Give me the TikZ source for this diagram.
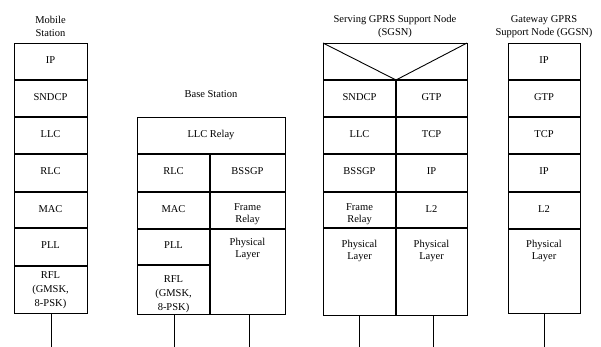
\documentclass[tikz,border=0pt]{standalone}
\usepackage{fontspec}
\setmainfont{Liberation Serif}
\begin{document}
\begin{tikzpicture}[x=1pt,y=-1pt,
  frame/.style={line width=0.9pt},
  sep/.style={line width=1.4pt},
  lay/.style={font=\fontsize{10.5}{12.5}\selectfont, align=center, anchor=north, inner sep=0pt},
  rfl/.style={lay, font=\fontsize{10.5}{14}\selectfont},
  ttl/.style={font=\fontsize{10.5}{13}\selectfont, align=center, inner sep=0pt},
  wire/.style={line width=0.9pt}]
\useasboundingbox (0,0) rectangle (601,347);

% ---------- Mobile Station ----------
\node[ttl] (msT) at (50.5,26.5) {Mobile\\Station};
\draw[frame] (14,43) rectangle (87,313);
\foreach \y in {80,117,154,192,228,266} \draw[sep] (14,\y) -- (87,\y);
\node[lay] (ms1) at (50.5,56) {IP};
\node[lay] (ms2) at (50.5,93) {SNDCP};
\node[lay] (ms3) at (50.5,130) {LLC};
\node[lay] (ms4) at (50.5,167) {RLC};
\node[lay] (ms5) at (50.5,205) {MAC};
\node[lay] (ms6) at (50.5,241) {PLL};
\node[rfl] (ms7) at (50.5,271) {RFL\\(GMSK,\\8-PSK)};
\coordinate (msA) at (51,313);
\coordinate (msB) at (51,347);
\draw[wire] (msA) -- (msB);

% ---------- Base Station ----------
\node[ttl] (bsT) at (211,94) {Base Station};
\draw[frame] (137,117) rectangle (285,314);
\draw[sep] (137,154) -- (285,154);
\draw[sep] (210,154) -- (210,314);
\draw[sep] (137,192) -- (285,192);
\draw[sep] (137,229) -- (285,229);
\draw[sep] (137,265) -- (210,265);
\node[lay] (bs1) at (211,130) {LLC Relay};
\node[lay] (bs2) at (173.5,167) {RLC};
\node[lay] (bs3) at (247.5,167) {BSSGP};
\node[lay] (bs4) at (173.5,205) {MAC};
\node[lay] (bs5) at (247.5,203) {Frame\\Relay};
\node[lay] (bs6) at (173.5,241) {PLL};
\node[lay] (bs7) at (247.5,238) {Physical\\Layer};
\node[rfl] (bs8) at (173.5,275) {RFL\\(GMSK,\\8-PSK)};
\coordinate (bsA) at (174,314);
\coordinate (bsB) at (174,347);
\coordinate (bsC) at (249,314);
\coordinate (bsD) at (249,347);
\draw[wire] (bsA) -- (bsB);
\draw[wire] (bsC) -- (bsD);

% ---------- SGSN ----------
\node[ttl] (sgT) at (395,26.5) {Serving GPRS Support Node\\(SGSN)};
\draw[frame] (323,43) rectangle (467,315);
\draw[frame] (323,43) -- (396,80) -- (467,43);
\foreach \y in {80,117,154,192,228} \draw[sep] (323,\y) -- (467,\y);
\draw[sep] (396,80) -- (396,315);
\node[lay] (sg1) at (359.5,93) {SNDCP};
\node[lay] (sg2) at (431.5,93) {GTP};
\node[lay] (sg3) at (359.5,130) {LLC};
\node[lay] (sg4) at (431.5,130) {TCP};
\node[lay] (sg5) at (359.5,167) {BSSGP};
\node[lay] (sg6) at (431.5,167) {IP};
\node[lay] (sg7) at (359.5,203) {Frame\\Relay};
\node[lay] (sg8) at (431.5,205) {L2};
\node[lay] (sg9) at (359.5,240) {Physical\\Layer};
\node[lay] (sg10) at (431.5,240) {Physical\\Layer};
\coordinate (sgA) at (359,315);
\coordinate (sgB) at (359,347);
\coordinate (sgC) at (433,315);
\coordinate (sgD) at (433,347);
\draw[wire] (sgA) -- (sgB);
\draw[wire] (sgC) -- (sgD);

% ---------- GGSN ----------
\node[ttl] (ggT) at (544,26.5) {Gateway GPRS\\Support Node (GGSN)};
\draw[frame] (508,43) rectangle (580,313);
\foreach \y in {80,117,154,192,229} \draw[sep] (508,\y) -- (580,\y);
\node[lay] (gg1) at (544,56) {IP};
\node[lay] (gg2) at (544,93) {GTP};
\node[lay] (gg3) at (544,130) {TCP};
\node[lay] (gg4) at (544,167) {IP};
\node[lay] (gg5) at (544,205) {L2};
\node[lay] (gg6) at (544,240) {Physical\\Layer};
\coordinate (ggA) at (544,313);
\coordinate (ggB) at (544,347);
\draw[wire] (ggA) -- (ggB);
\end{tikzpicture}
\end{document}
